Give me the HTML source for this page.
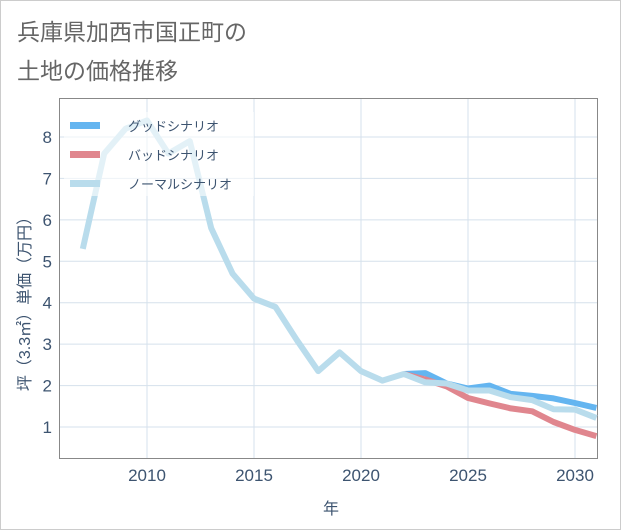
<!DOCTYPE html>
<html><head><meta charset="utf-8"><style>
body{margin:0;background:#fff;}
svg{display:block;font-family:"Liberation Sans","Noto Sans CJK JP",sans-serif;}
</style></head><body>
<svg id="s" width="621" height="530" viewBox="0 0 621 530">
<rect x="0.5" y="0.5" width="620" height="529" fill="#fff" stroke="#ccc"/>
<text x="17" y="40" font-size="23" fill="#666">兵庫県加西市国正町の</text>
<text x="17" y="79" font-size="23" fill="#666">土地の価格推移</text>
<g id="grid" stroke="#d5e1ec" stroke-width="1"></g>
<rect x="59.5" y="98.5" width="538" height="360" fill="none" stroke="#888"/>
<g id="lines" fill="none" stroke-width="6" stroke-linejoin="round"></g>
<g font-size="17" fill="#3d5470" id="labels"></g>
<text x="331" y="514" font-size="16" fill="#3d5470" text-anchor="middle">年</text>
<text transform="translate(30,300) rotate(-90)" font-size="16" fill="#3d5470" text-anchor="middle">坪（3.3㎡）単価（万円）</text>
<rect x="64" y="112" width="190" height="84" fill="#fff" fill-opacity="0.6"/>
<rect x="70" y="122" width="30" height="7" fill="#64b5f0"/>
<rect x="70" y="151" width="30" height="7" fill="#e0868e"/>
<rect x="70" y="180" width="30" height="7" fill="#b9dcec"/>
<g font-size="13" fill="#3d5470">
<text x="128" y="131">グッドシナリオ</text>
<text x="128" y="160">バッドシナリオ</text>
<text x="128" y="189">ノーマルシナリオ</text>
</g>
</svg>
<script>
const X=y=>147+(y-2010)*21.4, Y=v=>427-(v-1)*41.43;
const ns="http://www.w3.org/2000/svg";
const g=document.getElementById('grid'),L=document.getElementById('labels'),ln=document.getElementById('lines');
function el(p,t,a){const e=document.createElementNS(ns,t);for(const k in a)e.setAttribute(k,a[k]);p.appendChild(e);return e;}
for(let v=1;v<=8;v++){el(g,'line',{x1:59,x2:597,y1:Y(v),y2:Y(v)});const t=el(L,'text',{x:52,y:Y(v)+6,'text-anchor':'end'});t.textContent=v;}
for(let y=2010;y<=2030;y+=5){el(g,'line',{x1:X(y),x2:X(y),y1:98,y2:458});const t=el(L,'text',{x:X(y),y:481,'text-anchor':'middle'});t.textContent=y;}
const good=[[2022,2.28],[2023,2.3],[2024,2.05],[2025,1.93],[2026,2.0],[2027,1.8],[2028,1.75],[2029,1.69],[2030,1.58],[2031,1.46]];
const bad=[[2022,2.28],[2023,2.15],[2024,1.98],[2025,1.7],[2026,1.57],[2027,1.45],[2028,1.38],[2029,1.12],[2030,0.93],[2031,0.78]];
const nv=[5.3,7.6,8.2,8.4,7.6,7.9,5.8,4.7,4.1,3.9,3.1,2.35,2.8,2.35,2.12,2.28,2.08,2.05,1.88,1.88,1.72,1.65,1.43,1.42,1.22];
const norm=nv.map((v,i)=>[2007+i,v]);
const pts=a=>a.map(p=>X(p[0]).toFixed(1)+','+Y(p[1]).toFixed(1)).join(' ');
el(ln,'polyline',{points:pts(good),stroke:'#64b5f0'});
el(ln,'polyline',{points:pts(bad),stroke:'#e0868e'});
el(ln,'polyline',{points:pts(norm),stroke:'#b9dcec'});
</script>
</body></html>
